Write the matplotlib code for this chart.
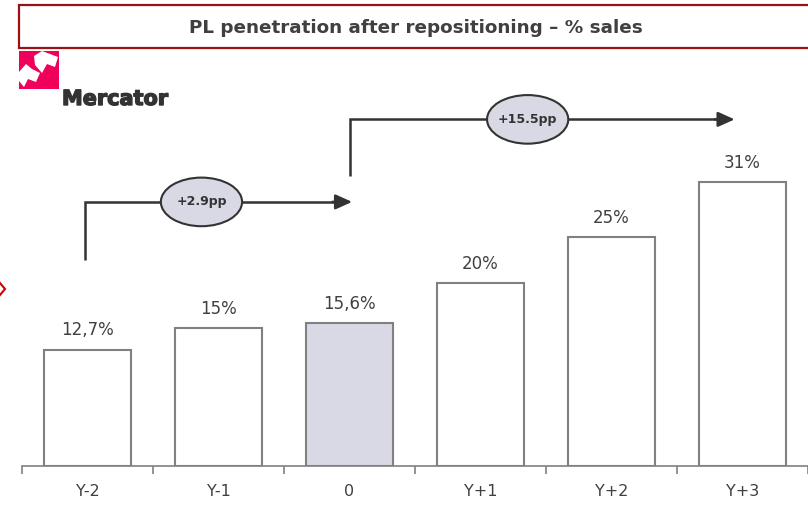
import matplotlib
matplotlib.use("Agg")
import matplotlib.pyplot as plt
import matplotlib.patheffects as pe
from matplotlib.patches import Rectangle, Ellipse, Polygon

categories = ["Y-2", "Y-1", "0", "Y+1", "Y+2", "Y+3"]
values = [12.7, 15.0, 15.6, 20.0, 25.0, 31.0]
value_labels = ["12,7%", "15%", "15,6%", "20%", "25%", "31%"]
highlight = "0"
title = "PL penetration after repositioning \u2013 % sales"
step_labels = ["+2.9pp", "+15.5pp"]

W, H = 808, 505
fig = plt.figure(figsize=(W / 100, H / 100), dpi=100)
fig.patch.set_facecolor("white")

# main axes (pixel layout: x 22..808, baseline y=466)
ax_left, ax_right = 22 / W, 1.0
ax_bottom = (H - 466) / H
ymax = 45.0
ax_h = ymax * 9.17 / H
ax = fig.add_axes([ax_left, ax_bottom, ax_right - ax_left, ax_h])
ax.patch.set_visible(False)
ax.set_xlim(-0.5, len(categories) - 0.5)
ax.set_ylim(0, ymax)

grey = "#808080"
txt = "#404040"
x = list(range(len(categories)))
colors = ["#D9D9E6" if c == highlight else "white" for c in categories]
ax.bar(x, values, width=0.664, color=colors, edgecolor=grey, linewidth=1.5, zorder=2)
for xi, v, lab in zip(x, values, value_labels):
    ax.text(xi, v + 1.1, lab, ha="center", va="bottom", fontsize=12, color=txt,
            family="DejaVu Sans")

for s in ["top", "right", "left"]:
    ax.spines[s].set_visible(False)
ax.spines["bottom"].set_color(grey)
ax.spines["bottom"].set_linewidth(1.2)
ax.set_yticks([])
ax.set_xticks(x)
ax.set_xticklabels(categories, fontsize=11.5, color=txt)
ax.tick_params(axis="x", length=0, pad=13)
ax.set_xticks([i - 0.5 for i in range(len(categories) + 1)], minor=True)
ax.tick_params(axis="x", which="minor", length=6, width=1.2, color=grey, direction="out")

# step arrows
dark = "#333333"
lw = 1.8
def step_arrow(x0, y0, y1, x1, ex, label):
    ax.plot([x0, x0, x1 - 0.12], [y0, y1, y1], color=dark, lw=lw, zorder=3,
            solid_capstyle="butt", solid_joinstyle="miter", clip_on=False)
    ax.annotate("", xy=(x1, y1), xytext=(x1 - 0.15, y1),
                arrowprops=dict(arrowstyle="-|>,head_length=1.0,head_width=0.45",
                                color=dark, lw=lw, shrinkA=0, shrinkB=0), zorder=3)
    ax.add_patch(Ellipse((ex, y1), 0.62, 5.3, facecolor="#D9D9E6", edgecolor=dark,
                         lw=1.5, zorder=4, clip_on=False))
    ax.text(ex, y1, label, ha="center", va="center", fontsize=9, fontweight="bold",
            color=dark, zorder=5)

step_arrow(-0.02, 22.5, 28.8, 2.02, 0.87, step_labels[0])
step_arrow(2.0, 31.6, 37.8, 4.94, 3.36, step_labels[1])

# overlay for decorations in pixel coords
ov = fig.add_axes([0, 0, 1, 1], zorder=-1)
ov.set_xlim(0, W)
ov.set_ylim(H, 0)
ov.axis("off")
ov.add_patch(Rectangle((19, 5), 800, 43, facecolor="white", edgecolor="#9B1010", lw=1.6))
ov.text(416, 28, title, ha="center", va="center", fontsize=13.2, fontweight="bold",
        color=txt, family="DejaVu Sans")

# logo
ov.add_patch(Rectangle((19, 51), 40, 38, facecolor="#F0005A", edgecolor="none"))
ov.add_patch(Polygon([(34, 56), (42, 51), (50, 54), (58, 57), (55, 67),
                      (47, 64), (42, 73), (35, 65)], facecolor="white", edgecolor="none"))
ov.add_patch(Polygon([(19, 72), (26, 64), (32, 69), (40, 73), (36, 82),
                      (28, 79), (24, 87), (19, 81)], facecolor="white", edgecolor="none"))
ov.text(62, 99, "Mercator", ha="left", va="center", fontsize=15, fontweight="bold",
        color="#333333", family="DejaVu Sans",
        path_effects=[pe.withStroke(linewidth=1.0, foreground="#333333")])

# red diamond at left edge
ov.add_patch(Polygon([(-4, 289), (0, 283), (5, 289), (0, 295)], closed=True,
                     facecolor="white", edgecolor="#CC0000", lw=1.5))

fig.savefig("out.png", dpi=100)
